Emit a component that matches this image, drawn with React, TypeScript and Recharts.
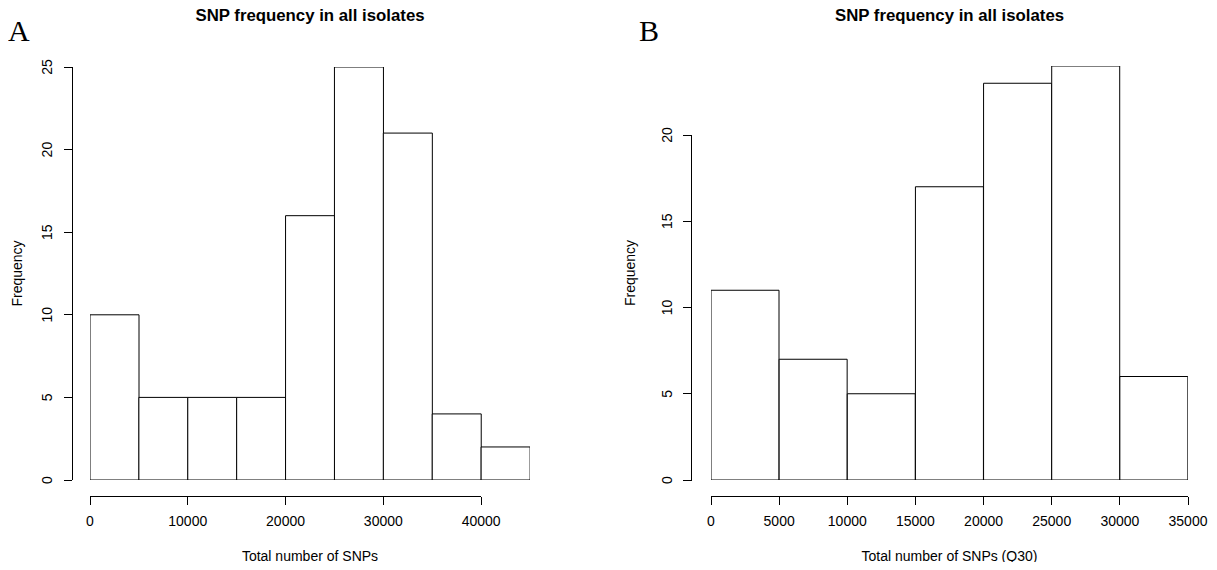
import React from "react";
import { BarChart, Bar, XAxis, YAxis } from "recharts";

// Histogram A: all SNPs, 5000-wide bins
const allBinStarts = [0, 5000, 10000, 15000, 20000, 25000, 30000, 35000, 40000];
const allCounts = [10, 5, 5, 5, 16, 25, 21, 4, 2];
const allXTicks = [0, 10000, 20000, 30000, 40000];
const allYTicks = [0, 5, 10, 15, 20, 25];

// Histogram B: Q30 SNPs, 5000-wide bins
const q30BinStarts = [0, 5000, 10000, 15000, 20000, 25000, 30000];
const q30Counts = [11, 7, 5, 17, 23, 24, 6];
const q30XTicks = [0, 5000, 10000, 15000, 20000, 25000, 30000, 35000];
const q30YTicks = [0, 5, 10, 15, 20];

const BIN_WIDTH = 5000;
const CHART_H = 570;
const TICK_LEN = 8.5;
const FONT = "'Liberation Sans', Arial, Helvetica, sans-serif";
const SERIF = "'Liberation Serif', 'Times New Roman', serif";

interface PanelProps {
  letter: string;
  title: string;
  xLabel: string;
  binStarts: number[];
  counts: number[];
  xTicks: number[];
  yTicks: number[];
  yMax: number;
  left: number;
  width: number;
  plotLeft: number;
  plotRight: number;
  plotTop: number;
  plotBottom: number;
  letterX: number;
  yLabelX: number;
}

// R-style axis: line detached from the plot region, spanning first..last tick
const makeYTick = (ticks: number[], max: number, plotH: number) => (props: any) => {
  const { x, y, index, payload } = props;
  const h = props.height || plotH;
  const span = ((ticks[ticks.length - 1] - payload.value) * h) / max;
  const lx = x - 25;
  return (
    <g>
      {index === 0 && (
        <line x1={x} x2={x} y1={y} y2={y - span} stroke="#000" shapeRendering="crispEdges" />
      )}
      <line x1={x} x2={x - TICK_LEN} y1={y} y2={y} stroke="#000" shapeRendering="crispEdges" />
      <text
        x={lx}
        y={y}
        transform={`rotate(-90 ${lx} ${y})`}
        textAnchor="middle"
        dominantBaseline="central"
        fontSize={14}
        fontFamily={FONT}
        fill="#000"
      >
        {payload.value}
      </text>
    </g>
  );
};

const makeXTick = (ticks: number[], max: number, plotW: number) => (props: any) => {
  const { x, y, index, payload } = props;
  const w = props.width || plotW;
  const span = ((ticks[ticks.length - 1] - payload.value) * w) / max;
  return (
    <g>
      {index === 0 && (
        <line x1={x} x2={x + span} y1={y} y2={y} stroke="#000" shapeRendering="crispEdges" />
      )}
      <line x1={x} x2={x} y1={y} y2={y + TICK_LEN} stroke="#000" shapeRendering="crispEdges" />
      <text
        x={x}
        y={y + 24.5}
        textAnchor="middle"
        dominantBaseline="central"
        fontSize={14}
        fontFamily={FONT}
        fill="#000"
      >
        {payload.value}
      </text>
    </g>
  );
};

const Histogram: React.FC<PanelProps> = (p) => {
  // each bar sits at its bin midpoint on a numeric axis
  const data = p.binStarts.map((start, i) => ({ mid: start + BIN_WIDTH / 2, count: p.counts[i] }));
  const xMax = p.binStarts.length * BIN_WIDTH;
  const plotW = p.plotRight - p.plotLeft;
  const plotH = p.plotBottom - p.plotTop;
  const yGap = 0.04 * plotW;
  const xGap = 0.04 * plotH;
  const centerX = (p.plotLeft + p.plotRight) / 2;

  return (
    <div style={{ position: "absolute", left: p.left, top: 0, width: p.width, height: CHART_H }}>
      <BarChart
        width={p.width}
        height={CHART_H}
        data={data}
        barCategoryGap={0}
        barGap={0}
        margin={{ top: p.plotTop, right: p.width - p.plotRight, bottom: 0, left: 0 }}
      >
        <XAxis
          dataKey="mid"
          type="number"
          domain={[0, xMax]}
          ticks={p.xTicks}
          allowDataOverflow
          height={CHART_H - p.plotBottom}
          axisLine={false}
          tickLine={false}
          tickSize={0}
          tickMargin={xGap}
          interval={0}
          tick={makeXTick(p.xTicks, xMax, plotW)}
          label={{
            value: p.xLabel,
            position: "insideBottom",
            offset: 9,
            fill: "#000",
            fontSize: 14,
            fontFamily: FONT,
          }}
        />
        <YAxis
          type="number"
          domain={[0, p.yMax]}
          ticks={p.yTicks}
          allowDataOverflow
          width={p.plotLeft}
          axisLine={false}
          tickLine={false}
          tickSize={0}
          tickMargin={yGap}
          interval={0}
          tick={makeYTick(p.yTicks, p.yMax, plotH)}
          label={{
            value: "Frequency",
            angle: -90,
            position: "insideLeft",
            offset: p.yLabelX,
            fill: "#000",
            fontSize: 14,
            fontFamily: FONT,
            style: { textAnchor: "middle" },
          }}
        />
        <Bar
          dataKey="count"
          fill="#fff"
          stroke="#000"
          strokeWidth={1}
          isAnimationActive={false}
        />
      </BarChart>
      <svg
        width={p.width}
        height={CHART_H}
        style={{ position: "absolute", left: 0, top: 0, pointerEvents: "none" }}
      >
        <text
          x={centerX}
          y={20.5}
          textAnchor="middle"
          fontSize={16.8}
          fontWeight="bold"
          fontFamily={FONT}
          fill="#000"
        >
          {p.title}
        </text>
        <text x={p.letterX} y={40.7} fontSize={30} fontFamily={SERIF} fill="#000">
          {p.letter}
        </text>
      </svg>
    </div>
  );
};

export default function App() {
  return (
    <div
      style={{
        position: "relative",
        width: 1217,
        height: CHART_H,
        margin: -8,
        background: "#fff",
        fontFamily: FONT,
      }}
    >
      <Histogram
        letter="A"
        title="SNP frequency in all isolates"
        xLabel="Total number of SNPs"
        binStarts={allBinStarts}
        counts={allCounts}
        xTicks={allXTicks}
        yTicks={allYTicks}
        yMax={25}
        left={0}
        width={600}
        plotLeft={90}
        plotRight={530}
        plotTop={67}
        plotBottom={480}
        letterX={8}
        yLabelX={17}
      />
      <Histogram
        letter="B"
        title="SNP frequency in all isolates"
        xLabel="Total number of SNPs (Q30)"
        binStarts={q30BinStarts}
        counts={q30Counts}
        xTicks={q30XTicks}
        yTicks={q30YTicks}
        yMax={24}
        left={600}
        width={617}
        plotLeft={111}
        plotRight={588}
        plotTop={66}
        plotBottom={480}
        letterX={39}
        yLabelX={30}
      />
    </div>
  );
}
